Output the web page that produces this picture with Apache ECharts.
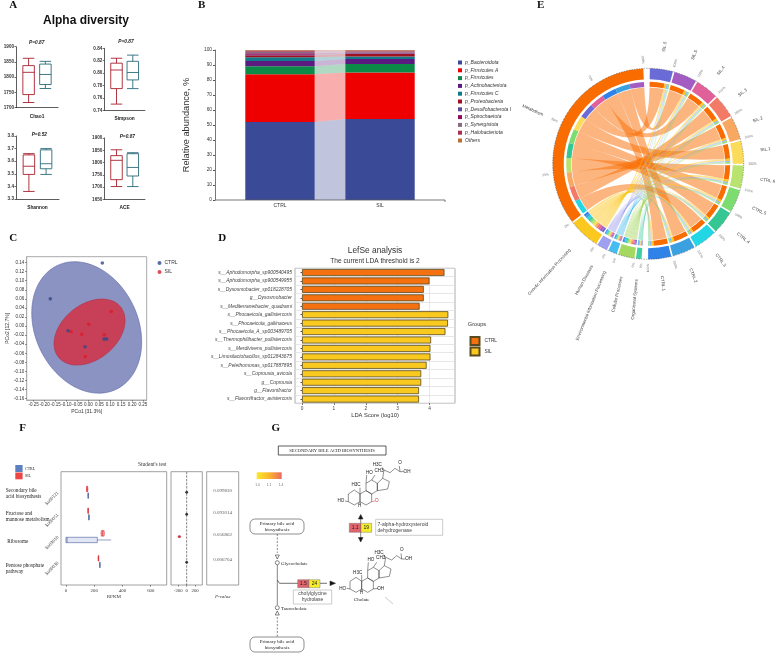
<!DOCTYPE html>
<html><head><meta charset="utf-8">
<style>html,body{margin:0;padding:0;background:#fff}#c{width:777px;height:654px}</style>
<script src="https://cdn.jsdelivr.net/npm/echarts@6/dist/echarts.min.js"></script></head>
<body><div id="c"></div>
<script>
// ---------- Panel A
const alphaMetrics = ['Chao1','Simpson','Shannon','ACE'];
const alphaP = ['P=0.87','P=0.87','P=0.52','P=0.87'];
const alphaCtrl = [[1717,1743,1816,1838,1862],[0.750,0.775,0.805,0.816,0.824],[3.36,3.495,3.56,3.65,3.66],[1702,1730,1809,1828,1852]];
const alphaSil  = [[1763,1776,1809,1843,1852],[0.775,0.789,0.801,0.819,0.829],[3.495,3.54,3.58,3.69,3.70],[1702,1745,1780,1836,1840]];
const alphaRange = [[1700,1900,50],[0.74,0.84,0.02],[3.3,3.8,0.1],[1650,1900,50]];
// ---------- Panel B
const groups = ['CTRL','SIL'];
const phyla = ['p_Bacteroidota','p_Firmicutes A','p_Firmicutes','p_Actinobacteriota','p_Firmicutes C','p_Proteobacteria','p_Desulfobacterota I','p_Spirochaetota','p_Synergistota','p_Halobacteriota','Others'];
const phylaColors = ['#3a4a96','#ee0000','#0a8a46','#5a1a80','#117a8a','#a01020','#5a4a9a','#900a60','#8a6a80','#a83050','#b87030'];
const phylaCtrl = [52,31.8,5.3,3.6,2.4,1.4,0.4,0.9,1.0,0.8,0.4];
const phylaSil  = [54,31,5.7,3.3,1.6,1.9,0.3,0.6,0.6,0.6,0.4];
// ---------- Panel C
const pcoaCtrl = [[0.064,0.139],[-0.174,0.06],[-0.093,-0.0103],[-0.015,-0.0456],[0.072,-0.0287],[0.084,-0.0287]];
const pcoaSil  = [[0.105,0.032],[0.002,0.004],[-0.079,-0.0125],[-0.03,-0.018],[0.073,-0.019],[-0.014,-0.067]];
const ellipseCtrl = [-0.0075,-0.003,0.2515,0.145,-0.22];
const ellipseSil  = [0.0055,-0.0132,0.1625,0.0728,0.35];
// ---------- Panel D
const lefseNames = ['s__Aphodomorpha_sp900540495','s__Aphodomorpha_sp900549955','s__Dysosmobacter_sp018228705','g__Dysosmobacter','s__Mediterraneibacter_quadrami','s__Phocaeicola_gallistercoris','s__Phocaeicola_gallinaceus','s__Phocaeicola_A_sp003489705','s__Thermophilibacter_pullistercoris','s__Merdivivens_pullistercoris','s__Limosilactobacillus_sp012843675','s__Pelethomonas_sp017887895','s__Coprousia_avicola','g__Coprousia','g__Flavonifractor','s__Flavonifractor_avistercoris'];
const lefseCtrl = [4.47,4.0,3.82,3.82,3.69,null,null,null,null,null,null,null,null,null,null,null];
const lefseSil  = [null,null,null,null,null,4.59,4.58,4.50,4.05,4.03,4.03,3.91,3.74,3.74,3.67,3.67];
// ---------- Panel E
const samples = ['SIL.6','SIL.5','SIL.4','SIL.3','SIL.2','SIL.1','CTRL.6','CTRL.5','CTRL.4','CTRL.3','CTRL.2','CTRL.1'];
const sampleColors = ['#6b6bd8','#a25cc2','#e0609a','#f47a68','#f8a860','#fadc5a','#b9e36f','#7ddc70','#34c793','#22d6e6','#3aa0e0','#2f82e8'];
const pathways = ['Organismal Systems','Cellular Processes','Environmental Information Processing','Human Diseases','Genetic Information Processing','Metabolism'];
const pathwayColors = ['#40d0a0','#a4d860','#45bdf0','#a0a0f0','#fbc820','#f96c00'];
const pathMetabolism = [75,73,74,74,75,74,73,74,75,74,74,73];
const pathGenetic    = [11,12,11,11,10,11,12,11,10,11,11,12];
const pathHuman      = [4,4,4,3,4,4,4,4,4,4,3,4];
const pathEnv        = [3,3,3,4,3,3,3,3,3,3,4,3];
const pathCellular   = [5,6,6,6,6,6,6,6,6,6,6,6];
const pathOrganismal = [2,2,2,2,2,2,2,2,2,2,2,2];
const metabolismOrder = ['CTRL.3','SIL.3','SIL.2','CTRL.6','CTRL.4','CTRL.5','SIL.1','SIL.6','SIL.4','CTRL.1','CTRL.2','SIL.5'];
// ---------- Panel F
const koIds = ['ko00121','ko00051','ko03010','ko00030'];
const koNames = ['Secondary bile\nacid biosynthesis','Fructose and\nmannose metabolism','Ribosome','Pentose phosphate\npathway'];
const rpkmCtrl = [[154,155,158,160,162],[159,160,163,165,167],[0,0,8,222,320],[236,238,240,242,244]];
const rpkmSil  = [[143,146,150,154,158],[153,155,157,159,161],[245,250,260,270,275],[226,228,230,232,234]];
const meanDiff = [[0,-14,14],[0,-14,14],[-172,-215,-125],[0,-14,14]];
const pValues = ['0.099830','0.093014','0.056862','0.006704'];
// row positions on the shared vertical scale of panel F
const koRows = [1,1.94,2.9,4];
const rowsCtrl = [1.14,2.07,3.04,4.11];
const rowsSil = [0.857,1.786,2.757,3.83];
const rowsP = [0.93,1.857,2.83,3.9];
// ---------- Panel G
const enzymeScale = ['1.0','1.1','1.4'];

const SERIF='"Liberation Serif",serif', SANS='"Liberation Sans",Arial,sans-serif';
const graphics=[];
const txt=(x,y,text,o={})=>graphics.push({type:'text',x,y,rotation:o.rot||0,silent:true,z:o.z||50,style:{text,fill:o.color||'#222',font:`${o.style||'normal'} ${o.weight||'normal'} ${o.size||5}px ${o.family||SANS}`,textAlign:o.align||'center',textVerticalAlign:'middle',lineHeight:o.lh}});
const rect=(x,y,w,h,o={})=>graphics.push({type:'rect',silent:true,z:o.z||40,shape:{x,y,width:w,height:h,r:o.r||0},style:{fill:o.fill||'none',stroke:o.stroke||null,lineWidth:o.lw||0.7,lineDash:o.dash}});
const poly=(pts,o={})=>graphics.push({type:o.closed?'polygon':'polyline',silent:true,z:o.z||40,shape:{points:pts},style:{fill:o.fill||'none',stroke:o.stroke===undefined?'#333':o.stroke,lineWidth:o.lw||0.6,lineDash:o.dash}});

[['A',13.3,5],['B',201.7,5],['E',540.7,5],['C',13.3,238.3],['D',222.3,238.3],['F',22.7,428.3],['G',275.7,428.3]].forEach(p=>txt(p[1],p[2],p[0],{size:11,weight:'bold',family:SERIF,color:'#111'}));

const grids=[],xAxes=[],yAxes=[],series=[];
// ---- A
txt(86,21,'Alpha diversity',{size:12,weight:'bold',color:'#111'});
const alphaGrid=[[16,46.7,42,61],[104.3,48.3,40.7,62],[16,136,43,63],[104.3,138,40.7,61.3]];
const alphaPPos=[[36.7,42.7],[126,41.7],[39.3,135],[127.3,136.7]];
const BLANK_BOX=['-','-','-','-','-'];
alphaMetrics.forEach((m,i)=>{
  const g=alphaGrid[i],r=alphaRange[i];
  grids.push({left:g[0],top:g[1],width:g[2],height:g[3]});
  xAxes.push({gridIndex:i,type:'category',data:['','',m,'',''],name:m,nameLocation:'middle',nameGap:6,nameTextStyle:{fontSize:4.8,fontWeight:'bold',color:'#222'},
    axisLabel:{show:false},axisLine:{lineStyle:{color:'#333',width:0.8}},axisTick:{alignWithLabel:true,length:1.5,interval:(k)=>k===2,lineStyle:{color:'#333'}}});
  yAxes.push({gridIndex:i,type:'value',min:r[0],max:r[1],interval:r[2],splitLine:{show:false},
    axisLabel:{fontSize:4.6,fontWeight:'bold',color:'#333',margin:2,formatter:v=>i===1?v.toFixed(2):i===2?v.toFixed(1):String(v)},
    axisLine:{show:true,lineStyle:{color:'#333',width:0.8}},axisTick:{show:true,length:1.5,lineStyle:{color:'#333',width:0.7}}});
  series.push({type:'boxplot',xAxisIndex:i,yAxisIndex:i,boxWidth:[11.5,11.5],silent:true,
    itemStyle:{color:'rgba(0,0,0,0)',borderWidth:0.9},
    data:[BLANK_BOX,{value:alphaCtrl[i],itemStyle:{borderColor:'#a8202c',color:'rgba(0,0,0,0)'}},BLANK_BOX,{value:alphaSil[i],itemStyle:{borderColor:'#2a6a78',color:'rgba(0,0,0,0)'}},BLANK_BOX]});
  txt(alphaPPos[i][0],alphaPPos[i][1],alphaP[i],{size:4.8,weight:'bold',style:'italic'});
});
// ---- B (axis 4)
let gi=4;
grids.push({left:230,top:50,width:200,height:150});
xAxes.push({gridIndex:gi,type:'category',data:groups,axisLine:{show:false},axisTick:{show:false},axisLabel:{fontSize:5,color:'#333',margin:3}});
yAxes.push({gridIndex:gi,type:'value',offset:15,min:0,max:100,interval:10,name:'Relative abundance, %',nameLocation:'middle',nameGap:24,nameTextStyle:{fontSize:9.2,color:'#333'},
  splitLine:{show:false},axisLine:{show:true,lineStyle:{color:'#555',width:0.8}},axisTick:{show:true,length:2,lineStyle:{color:'#555'}},axisLabel:{fontSize:4.8,color:'#333',margin:3}});
poly([[215,200],[445,200],[445,202]],{stroke:'#555',lw:0.8});
const HALF_BAR=34.7;
let lo1=0,lo2=0; const bandData=[];
phyla.forEach((p,k)=>{bandData.push([lo1,lo1+phylaCtrl[k],lo2,lo2+phylaSil[k],k]);lo1+=phylaCtrl[k];lo2+=phylaSil[k];});
series.push({type:'custom',xAxisIndex:gi,yAxisIndex:gi,silent:true,z:1,data:bandData,
  renderItem:(pr,api)=>{
    const a=api.coord([0,api.value(0)]),b=api.coord([0,api.value(1)]),c=api.coord([1,api.value(3)]),d=api.coord([1,api.value(2)]);
    return {type:'polygon',shape:{points:[[a[0]+HALF_BAR,a[1]],[b[0]+HALF_BAR,b[1]],[c[0]-HALF_BAR,c[1]],[d[0]-HALF_BAR,d[1]]]},style:{fill:phylaColors[api.value(4)],opacity:0.32}};
  }});
phyla.forEach((p,k)=>series.push({type:'bar',name:p,stack:'phy',xAxisIndex:gi,yAxisIndex:gi,barWidth:69.4,silent:true,itemStyle:{color:phylaColors[k]},data:[phylaCtrl[k],phylaSil[k]]}));
// ---- C (axis 5)
gi=5;
const cTicksX=[],cTicksY=[];
for(let v=-25;v<=25;v+=5)cTicksX.push(v/100);
for(let v=-16;v<=14;v+=2)cTicksY.push(v/100);
grids.push({left:26.7,top:256.7,width:120,height:143.3,show:true,borderColor:'#aaa',borderWidth:1,backgroundColor:'#fff'});
xAxes.push({gridIndex:gi,type:'value',min:-0.282,max:0.267,name:'PCo1 [31.3%]',nameLocation:'middle',nameGap:9,nameTextStyle:{fontSize:5,color:'#333'},splitLine:{show:false},
  axisLine:{onZero:false,lineStyle:{color:'#aaa'}},axisTick:{customValues:cTicksX,length:1.5,lineStyle:{color:'#777'}},axisLabel:{customValues:cTicksX,fontSize:4.5,color:'#333',margin:2.5,hideOverlap:false,formatter:v=>v.toFixed(2)}});
yAxes.push({gridIndex:gi,type:'value',min:-0.163,max:0.153,name:'PCo2 [12.7%]',nameLocation:'middle',nameGap:14,nameTextStyle:{fontSize:5,color:'#333'},splitLine:{show:false},
  axisLine:{onZero:false,lineStyle:{color:'#aaa'}},axisTick:{customValues:cTicksY,length:1.5,lineStyle:{color:'#777'}},axisLabel:{customValues:cTicksY,fontSize:4.5,color:'#333',margin:2.5,formatter:v=>v.toFixed(2)}});
const ellipseItem=(fill,stroke)=>(pr,api)=>{
  const [cx,cy,rx,ry,rho]=[0,1,2,3,4].map(i=>api.value(i)); const pts=[];
  for(let k=0;k<90;k++){const t=k/90*2*Math.PI;pts.push(api.coord([cx+rx*Math.cos(t),cy+ry*(rho*Math.cos(t)+Math.sqrt(1-rho*rho)*Math.sin(t))]));}
  return {type:'polygon',shape:{points:pts},style:{fill,stroke,lineWidth:0.6}};
};
series.push({type:'custom',xAxisIndex:gi,yAxisIndex:gi,silent:true,z:1,data:[ellipseCtrl],renderItem:ellipseItem('#8b93c3','#5e68a6')});
series.push({type:'custom',xAxisIndex:gi,yAxisIndex:gi,silent:true,z:2,data:[ellipseSil],renderItem:ellipseItem('#c83f58','#b03048')});
series.push({type:'scatter',name:'CTRL',xAxisIndex:gi,yAxisIndex:gi,silent:true,z:3,symbolSize:3.6,itemStyle:{color:'#2f4a86'},data:pcoaCtrl});
series.push({type:'scatter',name:'SIL',xAxisIndex:gi,yAxisIndex:gi,silent:true,z:3,symbolSize:3.6,itemStyle:{color:'#dd1c28'},data:pcoaSil});
// ---- D (axis 6)
gi=6;
txt(375,250.7,'LefSe analysis',{size:8.4,color:'#333'});
txt(375,261.5,'The current LDA threshold is 2',{size:6.6,color:'#333'});
grids.push({left:295,top:268.3,width:160,height:135,show:true,borderColor:'#999',borderWidth:0.8});
xAxes.push({gridIndex:gi,type:'value',min:-0.22,max:4.8,name:'LDA Score (log10)',nameLocation:'middle',nameGap:9,nameTextStyle:{fontSize:5.8,color:'#333'},
  splitLine:{show:true,lineStyle:{color:'#ddd',width:0.7}},axisLine:{onZero:false,show:false},axisTick:{show:true,customValues:[0,1,2,3,4],length:1.5,lineStyle:{color:'#555'}},axisLabel:{customValues:[0,1,2,3,4],fontSize:4.8,color:'#444',margin:3}});
yAxes.push({gridIndex:gi,type:'category',inverse:true,data:lefseNames,splitLine:{show:true,interval:0,lineStyle:{color:'#ddd',width:0.7}},axisLine:{show:false},axisTick:{show:true,length:1.5,alignWithLabel:true,lineStyle:{color:'#555'}},
  axisLabel:{interval:0,fontSize:4.9,fontStyle:'italic',color:'#444',margin:3}});
[['CTRL ',lefseCtrl,'#f5700f'],['SIL ',lefseSil,'#f9c91f']].forEach(([n,a,c])=>series.push({type:'bar',name:n,stack:'l',barWidth:7,xAxisIndex:gi,yAxisIndex:gi,silent:true,itemStyle:{color:c,borderColor:'#5a4a20',borderWidth:0.8},data:a}));
txt(477,324.5,'Groups',{size:5.6,color:'#333'});
// ---- F (axes 7,8,9)
const fY={min:0.114,max:4.97};
const fAxisY=(g,extra)=>Object.assign({gridIndex:g,type:'value',inverse:true,min:fY.min,max:fY.max,splitLine:{show:false},axisLine:{show:false,onZero:false},axisTick:{show:false},axisLabel:{show:false}},extra||{});
const fGrid=(l,w)=>({left:l,top:471.7,width:w,height:113.3,show:true,borderColor:'#888',borderWidth:0.8});
const fLab={fontFamily:SERIF,fontSize:4.8,color:'#333',margin:3};
grids.push(fGrid(61,105.7),fGrid(171,31.3),fGrid(206.7,32));
xAxes.push({gridIndex:7,type:'value',min:-35,max:713,name:'RPKM',nameLocation:'middle',nameGap:9,nameTextStyle:{fontFamily:SERIF,fontSize:5,color:'#333'},splitLine:{show:false},axisLine:{show:false,onZero:false},axisTick:{customValues:[0,200,400,600],length:1.5,lineStyle:{color:'#777'}},axisLabel:Object.assign({customValues:[0,200,400,600]},fLab)});
xAxes.push({gridIndex:8,type:'value',min:-369,max:368,splitLine:{show:false},axisLine:{show:false,onZero:false},axisTick:{customValues:[-200,0,200],length:1.5,lineStyle:{color:'#777'}},axisLabel:Object.assign({customValues:[-200,0,200]},fLab)});
xAxes.push({gridIndex:9,type:'value',min:0,max:1,name:'P-value',nameLocation:'middle',nameGap:9,nameTextStyle:{fontFamily:SERIF,fontSize:5,fontStyle:'italic',color:'#333'},splitLine:{show:false},axisLine:{show:false,onZero:false},axisTick:{show:false},axisLabel:{show:false}});
yAxes.push(fAxisY(7,{axisTick:{show:false},axisLabel:{show:true,customValues:koRows,rotate:45,fontFamily:SERIF,fontSize:4.8,color:'#333',margin:3,formatter:v=>koIds[koRows.indexOf(v)]}}),fAxisY(8),fAxisY(9));
const boxRender=(stroke,fill)=>(pr,api)=>{
  const row=api.value(0),[mn,q1,md,q3,mx]=[1,2,3,4,5].map(i=>api.value(i));
  const p=(v)=>api.coord([v,row])[0], y=api.coord([0,row])[1], h=2.7;
  return {type:'group',children:[
    {type:'line',shape:{x1:p(mn),y1:y,x2:p(mx),y2:y},style:{stroke,lineWidth:0.6}},
    {type:'rect',shape:{x:p(q1),y:y-h,width:Math.max(p(q3)-p(q1),0.6),height:2*h},style:{fill,stroke,lineWidth:0.6}},
    {type:'line',shape:{x1:p(md),y1:y-h,x2:p(md),y2:y+h},style:{stroke,lineWidth:0.7}}
  ]};
};
const rowsAt=(a,r)=>a.map((v,i)=>[r[i]].concat(v));
series.push({type:'custom',xAxisIndex:7,yAxisIndex:7,silent:true,data:rowsAt(rpkmCtrl,rowsCtrl),renderItem:boxRender('#4a5f98','#e2e6f4')});
series.push({type:'custom',xAxisIndex:7,yAxisIndex:7,silent:true,data:rowsAt(rpkmSil,rowsSil),renderItem:boxRender('#d8242c','#f7c7c7')});
series.push({type:'custom',xAxisIndex:8,yAxisIndex:8,silent:true,data:meanDiff.map((v,i)=>[koRows[i]].concat(v)),
  renderItem:(pr,api)=>{
    const c=api.coord([api.value(1),api.value(0)]),a=api.coord([api.value(2),api.value(0)]),b=api.coord([api.value(3),api.value(0)]);
    const col=api.value(1)<-50?'#c8323a':'#333';
    return {type:'group',children:[{type:'line',shape:{x1:a[0],y1:a[1],x2:b[0],y2:b[1]},style:{stroke:col,lineWidth:0.5}},{type:'circle',shape:{cx:c[0],cy:c[1],r:1.4},style:{fill:col}}]};
  }});
series.push({type:'line',xAxisIndex:8,yAxisIndex:8,silent:true,symbol:'none',lineStyle:{color:'#333',width:0.6,type:'dashed'},data:[[0,fY.min],[0,fY.max]]});
series.push({type:'scatter',xAxisIndex:9,yAxisIndex:9,silent:true,symbolSize:0,data:pValues.map((v,i)=>({value:[0.5,rowsP[i]],label:{show:true,position:'inside',formatter:v,fontFamily:SERIF,fontSize:5,color:'#333'}}))});
txt(152.3,465,"Student's test",{size:5.4,family:SERIF,color:'#333'});
rect(15.3,465,7.3,7,{fill:'#5b7fc0'}); rect(15.3,472.5,7.3,6.8,{fill:'#ee4545'});
txt(25,468.5,'CTRL',{size:4,family:SERIF,align:'left'}); txt(25,476,'SIL',{size:4,family:SERIF,align:'left'});
[[5.7,494],[5.7,516.5],[7.3,542],[5.7,568.3]].forEach((p,i)=>txt(p[0],p[1],koNames[i],{size:5.2,family:SERIF,align:'left',lh:6.2,color:'#222'}));
// ---- E
const CX=648.2,CY=163.8,PAD=1,GAP_VALUE=14;
const pathVals={'Metabolism':pathMetabolism,'Genetic Information Processing':pathGenetic,'Human Diseases':pathHuman,'Environmental Information Processing':pathEnv,'Cellular Processes':pathCellular,'Organismal Systems':pathOrganismal};
const sum=a=>a.reduce((x,y)=>x+y,0);
const GB='gapBottom',GT='gapTop';
const nodeNames=samples.concat([GB],pathways,[GT]), nodeColors=sampleColors.concat(['rgba(0,0,0,0)'],pathwayColors,['rgba(0,0,0,0)']);
const nodeVals=nodeNames.map((nm,i)=>nm===GB||nm===GT?GAP_VALUE:(i<12?pathways.reduce((t,p)=>t+pathVals[p][i],0):sum(pathVals[nm])));
const totalVal=sum(nodeVals), n=nodeNames.length;
const spacer=PAD/(360-n*PAD)*totalVal;
const START=89;
const links=[];
const pathOrder=['Metabolism','Genetic Information Processing','Human Diseases','Environmental Information Processing','Cellular Processes','Organismal Systems'];
pathOrder.forEach(p=>{
  const idx=p==='Metabolism'?metabolismOrder.map(s=>samples.indexOf(s)):samples.map((s,i)=>i);
  idx.forEach(i=>links.push({source:p,target:samples[i],value:pathVals[p][i]}));
});
const blank={color:'rgba(0,0,0,0)'};
const outerPie=[],innerPie=[];
nodeNames.forEach((nm,i)=>{
  outerPie.push({name:nm,value:nodeVals[i],itemStyle:{color:nodeColors[i]}});
  outerPie.push({name:'',value:spacer,itemStyle:blank});
  if(i<12){pathOrder.forEach(p=>innerPie.push({name:p,value:pathVals[p][i],itemStyle:{color:pathwayColors[pathways.indexOf(p)]}}));}
  else if(nm===GB||nm===GT){innerPie.push({name:'',value:GAP_VALUE,itemStyle:blank});}
  else{const p=nm;const idx=p==='Metabolism'?metabolismOrder.map(s=>samples.indexOf(s)):samples.map((s,k)=>k);
    idx.forEach(k=>innerPie.push({name:samples[k],value:pathVals[p][k],itemStyle:{color:sampleColors[k]}}));}
  innerPie.push({name:'',value:spacer,itemStyle:blank});
});
const pieBase={type:'pie',center:[CX,CY],startAngle:START,clockwise:true,silent:true,label:{show:false},labelLine:{show:false},animation:false,avoidLabelOverlap:false,minAngle:0,percentPrecision:4,emphasis:{disabled:true}};
series.push(Object.assign({},pieBase,{radius:[84.5,95.5],data:outerPie,z:3}));
series.push(Object.assign({},pieBase,{radius:[77,82],data:innerPie,z:3}));
series.push({type:'chord',center:[CX,CY],radius:[76.4,77],startAngle:START,padAngle:PAD,minAngle:0,clockwise:true,silent:true,z:2,
  label:{show:false},itemStyle:{opacity:0},lineStyle:{color:'source',opacity:0.5},
  data:nodeNames.map((nm,i)=>(nm===GB||nm===GT)?{name:nm,value:GAP_VALUE,itemStyle:{color:nodeColors[i]}}:{name:nm,itemStyle:{color:nodeColors[i]}}),links});
graphics.push({type:'circle',silent:true,z:20,shape:{cx:CX,cy:CY,r:95.5},style:{fill:'none',stroke:'#333',lineWidth:0.8,lineDash:[0.5,1.2]}});
const spanDeg=(360-n*PAD)/totalVal; let th=90-START;
const radial=(deg,r,text,o)=>{const a=deg*Math.PI/180,x=CX+r*Math.sin(a),y=CY-r*Math.cos(a),right=deg%360<180;
  txt(x,y,text,Object.assign({rot:(right?Math.PI/2-a:3*Math.PI/2-a),align:right?'left':'right',color:'#555'},o));};
nodeNames.forEach((nm,i)=>{
  const w=nodeVals[i]*spanDeg,mid=th+w/2;
  if(nm!==GB&&nm!==GT){
    radial(mid,i<12?113:116,nm,{size:4.4,color:'#444'});
    if(i<12) radial(th+w,100,'100%',{size:3.3,color:'#777'});
    else if(nm==='Metabolism') ['0%','25%','50%','75%','100%'].forEach((l,k)=>radial(th+w*k/4,100,l,{size:3.3,color:'#777'}));
    else radial(th,100,'0%',{size:3.3,color:'#777'});
  }
  th+=w+PAD;
});
// ---- G
const gx=x=>260+x/3, gy=y=>420+y/3;
rect(278.3,446,107.7,9,{stroke:'#333',lw:0.8,fill:'#fff'});
txt(332,450.5,'SECONDARY BILE ACID BIOSYNTHESIS',{size:4.6,family:SERIF,color:'#222'});
graphics.push({type:'rect',silent:true,z:40,shape:{x:256.7,y:472.3,width:25,height:6.7},style:{fill:new echarts.graphic.LinearGradient(0,0,1,0,[{offset:0,color:'#fbe92a'},{offset:0.5,color:'#fbb52d'},{offset:1,color:'#ea6a60'}])}});
enzymeScale.forEach((s,i)=>txt([257.7,269,281][i],485,s,{size:3.4,color:'#777'}));
[[250,519],[250,637]].forEach(p=>{rect(p[0],p[1],54,15,{stroke:'#444',lw:0.6,r:5,fill:'#fff'});txt(p[0]+27,p[1]+7.5,'Primary bile acid\nbiosynthesis',{size:5,family:SERIF,lh:5.8});});
poly([[277.3,534],[277.3,553]],{dash:[2,1.5]});poly([[277.3,617],[277.3,637]],{dash:[2,1.5]});
poly([[277.3,565],[277.3,605]],{});poly([[277.3,580],[279.5,583.3],[327,583.3]],{lw:0.7});
poly([[275.3,555],[279.3,555],[277.3,559]],{closed:true,fill:'#fff'});poly([[275.3,615],[279.3,615],[277.3,611]],{closed:true,fill:'#fff'});
[[277.3,562.7],[277.3,607.7]].forEach(p=>graphics.push({type:'circle',silent:true,z:42,shape:{cx:p[0],cy:p[1],r:2},style:{fill:'#fff',stroke:'#333',lineWidth:0.6}}));
txt(281,563.5,'Glycocholate',{size:5,family:SERIF,align:'left'});txt(281,608.5,'Taurocholate',{size:5,family:SERIF,align:'left'});
poly([[330,581],[335.5,583.3],[330,585.6]],{closed:true,fill:'#111'});
const enzyme=(x,y,a,b,w1,w2,h)=>{rect(x,y,w1,h,{fill:'#e0646c',stroke:'#666',lw:0.4,z:43});rect(x+w1,y,w2,h,{fill:'#f4ee2c',stroke:'#666',lw:0.4,z:43});txt(x+w1/2,y+h/2,a,{size:5,z:45});txt(x+w1+w2/2,y+h/2,b,{size:5,z:45});};
enzyme(297.7,579.7,'1.5','24',11.3,11,8);
enzyme(349.3,523.3,'1.1','19',11.7,10.7,9);
rect(293.3,590,38.4,14,{stroke:'#999',lw:0.5,fill:'#fff'});txt(312.5,597,'cholylglycine\nhydrolase',{size:5,lh:6,color:'#444'});
rect(375.7,519.3,67,16,{stroke:'#999',lw:0.5,fill:'#fff'});txt(377.5,527.3,'7-alpha-hydroxysteroid\ndehydrogenase',{size:5,lh:6,align:'left',color:'#444'});
poly([[360.7,518],[360.7,523]],{});poly([[360.7,532],[360.7,538]],{});
poly([[358.4,519],[360.7,514.5],[363,519]],{closed:true,fill:'#111'});poly([[358.4,537.5],[360.7,542],[363,537.5]],{closed:true,fill:'#111'});
txt(361.7,599.3,'Cholate',{size:5,family:SERIF});
poly([[385,597],[393,604]],{stroke:'#bbb',lw:0.8});
const mol=(dx,dy,isCholate)=>{
  const P=a=>a.map(p=>[gx(p[0]+dx),gy(p[1]+dy)]);
  [[[265,222],[283,210],[300,222],[300,245],[283,255],[265,245]],
   [[300,222],[318,212],[335,222],[335,245],[318,255],[300,245]],
   [[318,212],[318,190],[335,180],[352,190],[352,212],[335,222]],
   [[352,190],[368,175],[388,185],[383,207],[352,212]]].forEach(r=>poly(P(r),{closed:true,lw:0.5,stroke:'#222'}));
  [[[368,175],[372,150],[390,158],[405,145],[420,155],[432,155]],[[420,155],[418,138]],[[372,150],[366,142]],[[335,180],[345,165]],[[318,190],[320,165]],[[300,222],[300,203]],[[300,245],[300,252]],[[265,245],[255,243]]].forEach(l=>poly(P(l),{lw:0.5,stroke:'#222'}));
  poly(P(isCholate?[[335,245],[350,243]]:[[335,245],[345,243]]),{lw:0.5,stroke:isCholate?'#222':'#c33'});
  const L=(x,y,s,c)=>txt(gx(x+dx),gy(y+dy),s,{size:4.6,color:c||'#222'});
  L(352,135,'H3C');L(357,152,'CH3');L(328,157,'HO');L(288,195,'H3C');L(243,243,'HO');L(299,256,'H');L(420,128,'O');L(441,155,'OH');
  if(isCholate)L(357,243,'OH');else L(350,243,'O','#c33');
};
mol(0,0,false);mol(5,262,true);

const legends=[
 {data:phyla.map(p=>({name:p,icon:'rect'})),orient:'vertical',left:453,top:55,itemWidth:4,itemHeight:4,itemGap:2.8,selectedMode:false,textStyle:{fontSize:5,fontStyle:'italic',color:'#333',padding:[0,0,0,-2]}},
 {data:[{name:'CTRL',icon:'circle'},{name:'SIL',icon:'circle'}],orient:'vertical',left:152.5,top:255.5,itemWidth:4,itemHeight:4,itemGap:4,selectedMode:false,textStyle:{fontSize:5,color:'#333',padding:[0,0,0,-2]}},
 {data:[{name:'CTRL ',icon:'rect'},{name:'SIL ',icon:'rect'}],orient:'vertical',left:464.5,top:331,itemWidth:9,itemHeight:8,itemGap:0.6,selectedMode:false,textStyle:{fontSize:4.8,color:'#333'}}
];
const chart=echarts.init(document.getElementById('c'),null,{renderer:'canvas'});
chart.setOption({animation:false,backgroundColor:'#fff',textStyle:{fontFamily:SANS},tooltip:{show:false},
  grid:grids,xAxis:xAxes,yAxis:yAxes,legend:legends,series,graphic:{elements:graphics}});
</script></body></html>
